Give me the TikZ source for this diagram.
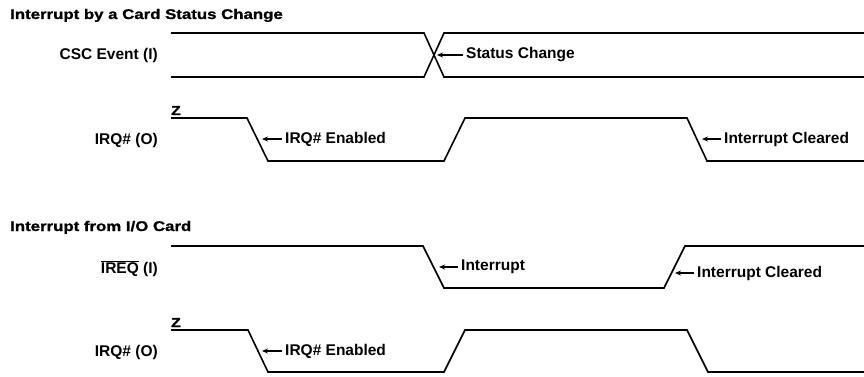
\documentclass[tikz,border=0pt]{standalone}
\usepackage{fontspec}
\setmainfont{Liberation Sans}
\newfontfamily\headfont{Liberation Sans}[FakeStretch=1.2,FakeBold=1.2]
\usetikzlibrary{arrows.meta}

\begin{document}
\begin{tikzpicture}[x=1pt,y=-1pt,
  wave/.style={line width=1.6pt, line join=miter},
  sig/.style={anchor=east, inner sep=0pt, font=\fontsize{15.5}{18}\selectfont\bfseries},
  note/.style={anchor=west, inner sep=0pt, font=\fontsize{15.5}{18}\selectfont\bfseries},
  head/.style={anchor=base west, inner sep=0pt, font=\headfont\fontsize{14}{17}\selectfont\bfseries},
  zlvl/.style={anchor=base west, inner sep=0pt, font=\headfont\fontsize{13}{15}\selectfont\bfseries},
  ptr/.style={line width=1.1pt, -{Stealth[length=6pt,width=5pt]}}]
\useasboundingbox (0,0) rectangle (864,377);

% Card status change
\node[head] (hcsc) at (10,19) {Interrupt by a Card Status Change};

\node[sig] (csc) at (158,55) {CSC Event (I)};
\draw[wave] (171,33) -- (424,33) -- (444,77) -- (864,77);
\draw[wave] (171,77) -- (424,77) -- (444,33) -- (864,33);
\coordinate (cscTip) at (437,55);
\node[note] (stat) at (466,55) {Status Change};
\draw[ptr] ([xshift=-3pt]stat.west) -- (cscTip);

\node[sig] (irqa) at (158,140) {IRQ\# (O)};
\node[zlvl] (za) at (171,115) {Z};
\draw[wave] (171,118) -- (247,118) -- (268,161) -- (444,161) -- (465,118)
  -- (687,118) -- (707,161) -- (864,161);
\coordinate (enaTip) at (262,139);
\node[note] (ena) at (285,139) {IRQ\# Enabled};
\draw[ptr] ([xshift=-3pt]ena.west) -- (enaTip);
\coordinate (clrTip) at (702,139);
\node[note] (clr) at (724,139) {Interrupt Cleared};
\draw[ptr] ([xshift=-3pt]clr.west) -- (clrTip);

% Interrupt from the card
\node[head] (hio) at (10,231) {Interrupt from I/O Card};

\node[sig] (ireq) at (158,269) {$\overline{\hbox{IREQ}}$ (I)};
\draw[wave] (171,246) -- (423,246) -- (444,288) -- (664,288) -- (685,246) -- (864,246);
\coordinate (intTip) at (439,267);
\node[note] (int) at (461,267) {Interrupt};
\draw[ptr] ([xshift=-3pt]int.west) -- (intTip);
\coordinate (clrbTip) at (675,273);
\node[note] (clrb) at (697,273) {Interrupt Cleared};
\draw[ptr] ([xshift=-3pt]clrb.west) -- (clrbTip);

\node[sig] (irqb) at (158,352) {IRQ\# (O)};
\node[zlvl] (zb) at (171,327) {Z};
\draw[wave] (171,330) -- (248,330) -- (268,372) -- (444,372) -- (465,330)
  -- (687,330) -- (708,372) -- (864,372);
\coordinate (enbTip) at (262,351);
\node[note] (enb) at (285,351) {IRQ\# Enabled};
\draw[ptr] ([xshift=-3pt]enb.west) -- (enbTip);
\end{tikzpicture}
\end{document}
